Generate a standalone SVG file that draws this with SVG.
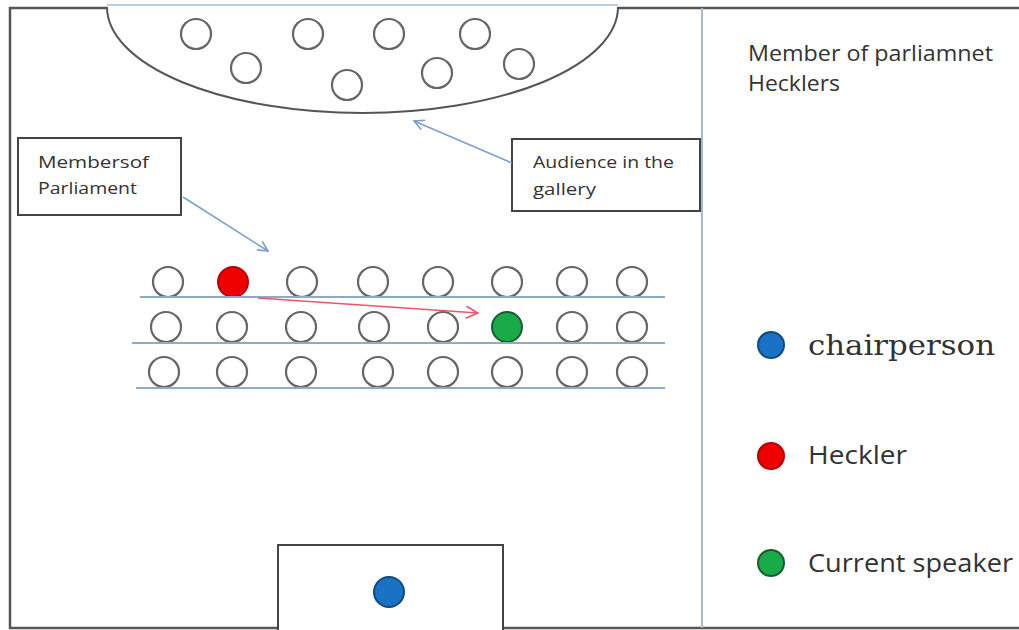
<svg xmlns="http://www.w3.org/2000/svg" width="1019" height="630" viewBox="0 0 1019 630">
<defs>
<style>
.frame{fill:none;stroke:#555;stroke-width:2.5}
.seat{fill:#fff;stroke:#666;stroke-width:2.2}
.row{stroke:#8fa9c8;stroke-width:2}
.box{fill:#fff;stroke:#444;stroke-width:2}
.lbl{font-family:"Open Sans","Liberation Sans",sans-serif;fill:#333;font-size:16.5px}
.leg{font-family:"Open Sans","Liberation Sans",sans-serif;fill:#333}
.blue{stroke:#7b9fd0;stroke-width:1.6;fill:none}
</style>
<marker id="openBlue" viewBox="0 0 12 12" refX="11" refY="6" markerWidth="12" markerHeight="12" markerUnits="userSpaceOnUse" orient="auto"><path d="M1,1 L11,6 L1,11" fill="none" stroke="#7b9fd0" stroke-width="1.6"/></marker>
<marker id="openRed" viewBox="0 0 14 14" refX="13" refY="7" markerWidth="14" markerHeight="14" markerUnits="userSpaceOnUse" orient="auto"><path d="M1,1 L13,7 L1,13" fill="none" stroke="#e8586a" stroke-width="1.6"/></marker>
</defs>
<rect width="1019" height="630" fill="#fff"/>
<g id="frame">
<path class="frame" d="M107,8 H10 V628 H1019"/>
<path class="frame" d="M618,8 H1019"/>
<line x1="702" y1="8" x2="702" y2="628" stroke="#a9b8cc" stroke-width="2"/>
</g>
<g id="gallery">
<line x1="107" y1="5" x2="618" y2="5" stroke="#b8cde3" stroke-width="2"/>
<path d="M107,7 A255.5,106 0 0 0 618,7" fill="#fff" stroke="#555" stroke-width="2"/>
<circle class="seat" cx="196" cy="34" r="15"/>
<circle class="seat" cx="308" cy="34" r="15"/>
<circle class="seat" cx="389" cy="34" r="15"/>
<circle class="seat" cx="475" cy="34" r="15"/>
<circle class="seat" cx="246" cy="68" r="15"/>
<circle class="seat" cx="347" cy="85" r="15"/>
<circle class="seat" cx="437" cy="73" r="15"/>
<circle class="seat" cx="519" cy="64" r="15"/>
</g>
<g id="members">
<circle class="seat" cx="168" cy="282" r="15"/>
<circle cx="233" cy="282" r="15" fill="#e00" stroke="#b00" stroke-width="2"/>
<circle class="seat" cx="302" cy="282" r="15"/>
<circle class="seat" cx="373" cy="282" r="15"/>
<circle class="seat" cx="438" cy="282" r="15"/>
<circle class="seat" cx="507" cy="282" r="15"/>
<circle class="seat" cx="572" cy="282" r="15"/>
<circle class="seat" cx="632" cy="282" r="15"/>
<circle class="seat" cx="166" cy="327" r="15"/>
<circle class="seat" cx="232" cy="327" r="15"/>
<circle class="seat" cx="301" cy="327" r="15"/>
<circle class="seat" cx="374" cy="327" r="15"/>
<circle class="seat" cx="443" cy="327" r="15"/>
<circle cx="507" cy="327" r="15" fill="#1aaa4a" stroke="#155f2a" stroke-width="2"/>
<circle class="seat" cx="572" cy="327" r="15"/>
<circle class="seat" cx="632" cy="327" r="15"/>
<circle class="seat" cx="164" cy="372" r="15"/>
<circle class="seat" cx="232" cy="372" r="15"/>
<circle class="seat" cx="301" cy="372" r="15"/>
<circle class="seat" cx="378" cy="372" r="15"/>
<circle class="seat" cx="443" cy="372" r="15"/>
<circle class="seat" cx="507" cy="372" r="15"/>
<circle class="seat" cx="572" cy="372" r="15"/>
<circle class="seat" cx="632" cy="372" r="15"/>
<line class="row" x1="140" y1="297" x2="665" y2="297"/>
<line class="row" x1="132" y1="343" x2="665" y2="343"/>
<line class="row" x1="136" y1="388" x2="665" y2="388"/>
</g>
<g id="mp-label">
<rect class="box" x="18" y="138" width="163" height="77"/>
<text class="lbl" x="38" y="168" textLength="111" lengthAdjust="spacingAndGlyphs">Membersof</text>
<text class="lbl" x="38" y="194" textLength="99" lengthAdjust="spacingAndGlyphs">Parliament</text>
</g>
<g id="audience-label">
<rect class="box" x="512" y="139" width="188" height="72"/>
<text class="lbl" x="533" y="168" textLength="141" lengthAdjust="spacingAndGlyphs">Audience in the</text>
<text class="lbl" x="533" y="195" textLength="63" lengthAdjust="spacingAndGlyphs">gallery</text>
</g>
<g id="chair">
<rect class="box" x="278" y="545" width="225" height="90"/>
<circle cx="389" cy="592" r="15" fill="#1a72c4" stroke="#124a80" stroke-width="2"/>
</g>
<g id="connectors">
<line class="blue" x1="183" y1="197" x2="268" y2="251" marker-end="url(#openBlue)"/>
<line class="blue" x1="512" y1="163" x2="414" y2="121" marker-end="url(#openBlue)"/>
<line x1="258" y1="298" x2="478" y2="313" stroke="#e8586a" stroke-width="1.6" marker-end="url(#openRed)"/>
</g>
<g id="title">
<text class="leg" x="748" y="61" font-size="22" textLength="245" lengthAdjust="spacingAndGlyphs">Member of parliamnet</text>
<text class="leg" x="748" y="91" font-size="22" textLength="92" lengthAdjust="spacingAndGlyphs">Hecklers</text>
</g>
<g id="legend">
<circle cx="771" cy="345" r="13" fill="#1a72c4" stroke="#124a80" stroke-width="2"/>
<text x="808" y="355" font-family="DejaVu Serif,Liberation Serif,serif" font-size="28" fill="#333" textLength="187" lengthAdjust="spacingAndGlyphs">chairperson</text>
<circle cx="771" cy="456" r="13" fill="#e00" stroke="#b00" stroke-width="2"/>
<text class="leg" x="808" y="464" font-size="25" textLength="99" lengthAdjust="spacingAndGlyphs">Heckler</text>
<circle cx="771" cy="563" r="13" fill="#1aaa4a" stroke="#155f2a" stroke-width="2"/>
<text class="leg" x="808" y="572" font-size="25" textLength="205" lengthAdjust="spacingAndGlyphs">Current speaker</text>
</g>
</svg>
